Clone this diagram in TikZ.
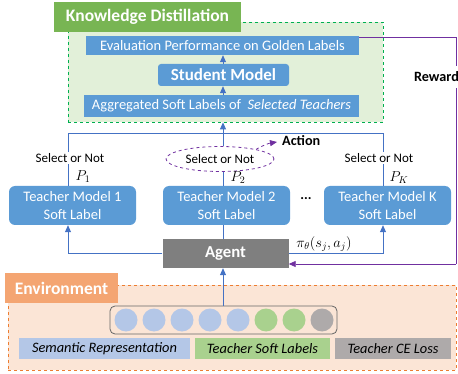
\documentclass[tikz,border=0pt]{standalone}
\usepackage{fontspec}
\setmainfont{Carlito}
\usetikzlibrary{arrows.meta,shapes.geometric}
\definecolor{boxblue}{HTML}{5B9BD5}
\definecolor{lineblue}{HTML}{4472C4}
\definecolor{purp}{HTML}{7030A0}
\definecolor{hgreen}{HTML}{78B553}
\definecolor{dgreen}{HTML}{00B050}
\definecolor{lgreen}{HTML}{E2F0D9}
\definecolor{horange}{HTML}{F4A572}
\definecolor{dorange}{HTML}{ED7D31}
\definecolor{lorange}{HTML}{FBE5D6}
\definecolor{agentgray}{HTML}{7F7F7F}
\definecolor{cblue}{HTML}{B4C7E7}
\definecolor{cgreen}{HTML}{A9D18E}
\definecolor{cgray}{HTML}{AEAAAA}
\tikzset{
  bluebox/.style={fill=boxblue,text=white,inner sep=0pt,font=\fontsize{14.5}{16}\selectfont},
  teachbox/.style={fill=boxblue,text=white,rounded corners=6pt,minimum width=127pt,minimum height=39pt,inner sep=0pt,align=center,font=\fontsize{14.5}{18}\selectfont},
  header/.style={text=white,inner sep=0pt,font=\fontsize{17.5}{20}\bfseries\selectfont},
  seltext/.style={inner sep=1pt,font=\fontsize{13}{15}\selectfont},
  bl/.style={draw=lineblue,line width=0.8pt},
  blarrow/.style={draw=lineblue,line width=0.8pt,-{Triangle[length=7pt,width=6pt]}},
  parrow/.style={draw=purp,line width=0.8pt,-{Triangle[length=7pt,width=6pt]}},
  circ/.style={circle,minimum size=23pt,inner sep=0pt},
  legend/.style={inner sep=0pt,minimum height=21pt,font=\fontsize{14.4}{16}\itshape\selectfont},
  plabel/.style={inner sep=0pt,font=\fontsize{14}{16}\selectfont},
  boldlab/.style={inner sep=0pt,font=\fontsize{14.2}{16}\bfseries\selectfont}
}
\begin{document}
\begin{tikzpicture}[x=1pt,y=-1pt]
\useasboundingbox (0,0) rectangle (458,374);
% Knowledge distillation box
\node[draw=dgreen,dashed,line width=0.8pt,fill=lgreen,minimum width=315pt,minimum height=100pt,inner sep=0pt] (kdbox) at (225.5,72) {};
\node[header,fill=hgreen,minimum width=187pt,minimum height=30pt] (kdhead) at (147.5,17) {Knowledge Distillation};
\node[bluebox,minimum width=273pt,minimum height=19pt] (eval) at (222.5,45.5) {Evaluation Performance on Golden Labels};
\node[bluebox,rounded corners=3pt,minimum width=131pt,minimum height=22pt,font=\fontsize{17}{19}\bfseries\selectfont] (student) at (223.5,75) {Student Model};
\node[bluebox,minimum width=275pt,minimum height=22pt] (agg) at (221.5,106) {Aggregated Soft Labels of \ \textit{Selected Teachers}};
\draw[blarrow] (agg.north -| 223,0) -- (student.south -| 223,0);
\draw[blarrow] (student.north -| 223,0) -- (eval.south -| 223,0);
% Environment
\node[draw=dorange,dashed,line width=0.8pt,fill=lorange,minimum width=448pt,minimum height=85pt,inner sep=0pt] (envbox) at (232,327.5) {};
\node[header,fill=horange,minimum width=113pt,minimum height=30pt] (envhead) at (61.5,288) {Environment};
\node[draw=black!60,line width=0.8pt,rounded corners=5pt,minimum width=227pt,minimum height=28pt,inner sep=0pt] (cont) at (223.5,320) {};
\foreach \i/\c in {0/cblue,1/cblue,2/cblue,3/cblue,4/cblue,5/cgreen,6/cgreen,7/cgray}{
  \node[circ,fill=\c] (c\i) at (126+28*\i,320) {};
}
\node[legend,fill=cblue,minimum width=171pt] (sem) at (104.5,348.5) {Semantic Representation};
\node[legend,fill=cgreen,minimum width=135pt] (tsl) at (262.5,348.5) {Teacher Soft Labels};
\node[legend,fill=cgray,minimum width=116pt] (tce) at (393,348.5) {Teacher CE Loss};
% Teachers
\node[teachbox] (t1) at (72.5,205.5) {Teacher Model 1\\Soft Label};
\node[teachbox] (t2) at (226.5,205.5) {Teacher Model 2\\Soft Label};
\node[teachbox] (tk) at (387.5,205.5) {Teacher Model K\\Soft Label};
\node[inner sep=0pt,font=\fontsize{14}{16}\bfseries\selectfont] (dots) at (306,199) {...};
% Agent
\node[fill=agentgray,text=white,minimum width=126pt,minimum height=29pt,inner sep=0pt,font=\fontsize{16.7}{19}\bfseries\selectfont] (agent) at (225.5,253.5) {Agent};
% select texts
\node[seltext] (s1) at (70,158) {Select or Not};
\node[seltext,ellipse,draw=purp,dashed,line width=0.8pt,fill=white,minimum width=108pt,minimum height=25pt,inner sep=0pt] (s2) at (220,159) {Select or Not};
\node[seltext] (sk) at (379,158) {Select or Not};
\node[plabel] (p1) at (83,177) {$P_1$};
\node[plabel] (p2) at (238,178) {$P_2$};
\node[plabel] (pk) at (399,178) {$P_K$};
% coordinates
\coordinate (h1) at (68,133);
\coordinate (hk) at (383,133);
\coordinate (hm) at (223,133);
% blue connectors
\draw[bl] (t1.north -| h1) -- (s1.south -| h1);
\draw[bl] (s1.north -| h1) -- (h1) -- (hk) -- (sk.north -| hk);
\draw[bl] (tk.north -| hk) -- (sk.south -| hk);
\draw[bl] (t2.north -| hm) -- (s2.south -| hm);
\draw[bl] (s2.north -| hm) -- (hm);
\draw[blarrow] (hm) -- (kdbox.south -| hm);
\draw[bl] (agent.north -| hm) -- (t2.south -| hm);
\draw[blarrow] (agent.west |- 0,253) -- (68,253) -- (t1.south -| h1);
\draw[blarrow] (agent.east |- 0,253) -- (383,253) -- (tk.south -| hk);
\draw[blarrow] (cont.north -| hm) -- (agent.south -| hm);
\node[plabel] (pi) at (324,244) {$\pi_\theta(s_j,a_j)$};
% reward
\coordinate (r1) at (456,37);
\coordinate (r2) at (456,264);
\draw[draw=purp,line width=0.8pt] (eval.east |- r1) -- (r1) -- (r2);
\draw[parrow] (r2) -- (agent.east |- r2);
\node[boldlab,fill=white,minimum height=22pt] (reward) at (436.5,77) {Reward};
% action
\node[boldlab,anchor=west] (action) at (282,141) {Action};
\coordinate (acttip) at (277,142);
\draw[draw=purp,dashed,line width=0.8pt,-{Triangle[length=7pt,width=6pt]}] (s2.15) to[bend left=10] (acttip);
\end{tikzpicture}
\end{document}
